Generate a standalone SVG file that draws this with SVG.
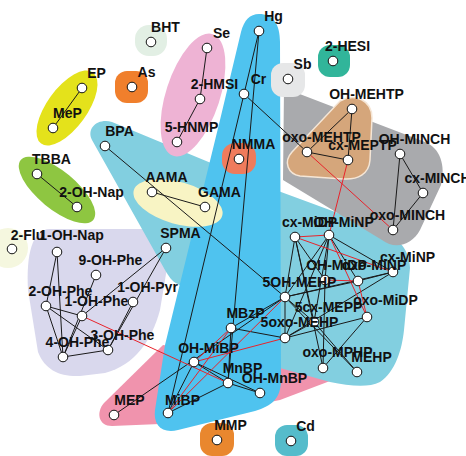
<svg xmlns="http://www.w3.org/2000/svg" width="466" height="456" viewBox="0 0 466 456">
<style>
.hull{stroke:none}
.e line{stroke:#1a1a1a;stroke-width:1}
.e line.r{stroke:#e8232b}
.n circle{fill:#fff;stroke:#111;stroke-width:1}
.n text{font-family:"Liberation Sans",Arial,sans-serif;font-weight:bold;font-size:14px;text-anchor:middle;fill:#111}
</style>
<rect width="466" height="456" fill="#fff"/>

<!-- cluster hulls -->
<g id="hulls">
  <path class="hull" fill="#d9d8ed" d="M50,229 L150,229 C160,230 166,245 168,262 L160,310 C152,340 135,365 105,373 L80,376 C60,377 45,370 38,352 L28,290 C26,255 32,229 50,229 Z"/>
  <circle class="hull" fill="#f5f7df" cx="8" cy="248" r="20"/>
  <path class="hull" fill="#f093ad" d="M163,345 L104,403 C96,412 98,426 112,426 L160,424 L280,400 L330,381 L282,362 Z"/>
  <path class="hull" fill="#82cfe0" d="M92,140 C86,128 98,118 112,122 L281,192 L376,227 C395,235 410,248 410,268 L404,330 C402,350 395,372 380,382 C368,388 350,386 330,382 L280,368 L200,300 L178,284 C172,282 168,275 165,270 Z"/>
  <path class="hull" fill="#4fc3ef" stroke="#fff" stroke-width="1" d="M259,14 C273,14 280,24 280,42 L281,380 C281,398 272,406 255,411 L178,430 C162,434 153,425 155,410 L165,345 L220,120 L241,32 C244,20 250,14 259,14 Z"/>
  <path class="hull" fill="#a9aaad" d="M284,88 L425,142 C440,148 446,165 441,185 L420,230 C412,245 395,250 382,240 L283,180 Z"/>
  <path fill="#d5a67b" stroke="#f5e6d6" stroke-width="1.5" d="M340,101 C355,93 372,100 372,118 L370,160 C369,174 358,180 343,179 L300,176 C288,174 283,162 292,152 Z"/>
  <ellipse class="hull" fill="#eeb3d4" cx="193" cy="95" rx="27" ry="64" transform="rotate(18 193 95)"/>
  <ellipse class="hull" fill="#e4e21b" cx="67" cy="108" rx="20" ry="44" transform="rotate(36 67 108)"/>
  <ellipse class="hull" fill="#8ec641" cx="57" cy="190" rx="47" ry="19" transform="rotate(39.5 57 190)"/>
  <ellipse class="hull" fill="#f8f4c4" cx="178" cy="203" rx="46" ry="21" transform="rotate(16 178 203)"/>
  <rect class="hull" fill="#e2efe4" x="135" y="25" width="32" height="31" rx="14"/>
  <rect class="hull" fill="#f07f2c" x="115" y="71" width="33" height="32" rx="12"/>
  <rect class="hull" fill="#e6e7e8" x="271" y="63" width="34" height="34" rx="12"/>
  <rect class="hull" fill="#31b59a" x="318" y="45" width="32" height="32" rx="12"/>
  <rect class="hull" fill="#ef7b5c" x="222" y="143" width="34" height="31" rx="13"/>
  <rect class="hull" fill="#e9872e" x="200" y="423" width="34" height="33" rx="12"/>
  <rect class="hull" fill="#55bccb" x="275" y="425" width="33" height="31" rx="12"/>
</g>

<!-- connectors -->
<g id="edges" class="e">
  <line x1="82" y1="88" x2="53" y2="128"/>
  <line x1="207" y1="48" x2="200" y2="99"/>
  <line x1="200" y1="99" x2="177" y2="142"/>
  <line x1="37" y1="174" x2="77" y2="207"/>
  <line x1="152" y1="192" x2="205" y2="207"/>
  <line x1="105" y1="146" x2="285" y2="297"/>
  <line x1="259" y1="31" x2="244" y2="94"/>
  <line x1="259" y1="31" x2="228" y2="383"/>
  <line x1="244" y1="94" x2="168" y2="413"/>
  <line x1="244" y1="94" x2="307" y2="152"/>
  <line x1="352" y1="109" x2="307" y2="152"/>
  <line x1="352" y1="109" x2="348" y2="160"/>
  <line x1="307" y1="152" x2="348" y2="160"/>
  <line x1="400" y1="154" x2="423" y2="193"/>
  <line x1="423" y1="193" x2="393" y2="230"/>
  <line x1="400" y1="154" x2="393" y2="230"/>
  <line x1="166" y1="248" x2="82" y2="316"/>
  <line x1="166" y1="248" x2="108" y2="350"/>
  <line x1="133" y1="302" x2="108" y2="350"/>
  <line x1="96" y1="275" x2="63" y2="357"/>
  <line x1="57" y1="252" x2="46" y2="306"/>
  <line x1="57" y1="252" x2="63" y2="357"/>
  <line x1="46" y1="306" x2="82" y2="316"/>
  <line x1="46" y1="306" x2="63" y2="357"/>
  <line x1="46" y1="306" x2="108" y2="350"/>
  <line x1="82" y1="316" x2="63" y2="357"/>
  <line x1="63" y1="357" x2="108" y2="350"/>
  <line x1="114" y1="415" x2="285" y2="297"/>
  <line x1="168" y1="413" x2="194" y2="362"/>
  <line x1="168" y1="413" x2="228" y2="383"/>
  <line x1="194" y1="362" x2="228" y2="383"/>
  <line x1="194" y1="362" x2="260" y2="393"/>
  <line x1="228" y1="383" x2="260" y2="393"/>
  <line x1="231" y1="328" x2="228" y2="383"/>
  <line x1="231" y1="328" x2="285" y2="338"/>
  <line x1="231" y1="328" x2="285" y2="297"/>
  <line x1="295" y1="237" x2="285" y2="297"/>
  <line x1="295" y1="237" x2="325" y2="280"/>
  <line x1="295" y1="237" x2="314" y2="322"/>
  <line x1="295" y1="237" x2="323" y2="368"/>
  <line x1="329" y1="235" x2="285" y2="297"/>
  <line x1="329" y1="235" x2="325" y2="280"/>
  <line x1="329" y1="235" x2="314" y2="322"/>
  <line x1="329" y1="235" x2="393" y2="272"/>
  <line x1="329" y1="235" x2="285" y2="338"/>
  <line x1="329" y1="235" x2="358" y2="281"/>
  <line x1="393" y1="272" x2="358" y2="281"/>
  <line x1="393" y1="272" x2="285" y2="297"/>
  <line x1="393" y1="272" x2="285" y2="338"/>
  <line x1="358" y1="281" x2="285" y2="297"/>
  <line x1="285" y1="297" x2="285" y2="338"/>
  <line x1="285" y1="297" x2="314" y2="322"/>
  <line x1="285" y1="297" x2="357" y2="372"/>
  <line x1="285" y1="338" x2="314" y2="322"/>
  <line x1="285" y1="338" x2="367" y2="317"/>
  <line x1="323" y1="368" x2="367" y2="317"/>
  <line x1="323" y1="368" x2="325" y2="280"/>
  <line x1="357" y1="372" x2="314" y2="322"/>
  <line class="r" x1="295" y1="237" x2="329" y2="235"/>
  <line class="r" x1="295" y1="237" x2="393" y2="272"/>
  <line class="r" x1="329" y1="235" x2="367" y2="317"/>
  <line class="r" x1="325" y1="280" x2="358" y2="281"/>
  <line class="r" x1="358" y1="281" x2="367" y2="317"/>
  <line class="r" x1="348" y1="160" x2="329" y2="235"/>
  <line class="r" x1="307" y1="152" x2="393" y2="230"/>
  <line class="r" x1="82" y1="316" x2="228" y2="383"/>
  <line class="r" x1="168" y1="413" x2="231" y2="328"/>
  <line class="r" x1="194" y1="362" x2="231" y2="328"/>
  <line class="r" x1="168" y1="413" x2="285" y2="297"/>
  <line class="r" x1="194" y1="362" x2="285" y2="338"/>
</g>

<!-- nodes -->
<g id="n-BHT" class="n"><circle cx="151" cy="42" r="4.8"/><text x="165.5" y="32">BHT</text></g>
<g id="n-Se" class="n"><circle cx="207" cy="48" r="4.8"/><text x="221.5" y="38">Se</text></g>
<g id="n-2-HMSI" class="n"><circle cx="200" cy="99" r="4.8"/><text x="214.5" y="89">2-HMSI</text></g>
<g id="n-5-HNMP" class="n"><circle cx="177" cy="142" r="4.8"/><text x="191.5" y="132">5-HNMP</text></g>
<g id="n-EP" class="n"><circle cx="82" cy="88" r="4.8"/><text x="96.5" y="78">EP</text></g>
<g id="n-MeP" class="n"><circle cx="53" cy="128" r="4.8"/><text x="67.5" y="118">MeP</text></g>
<g id="n-As" class="n"><circle cx="132" cy="87" r="4.8"/><text x="146.5" y="77">As</text></g>
<g id="n-BPA" class="n"><circle cx="105" cy="146" r="4.8"/><text x="119.5" y="136">BPA</text></g>
<g id="n-Hg" class="n"><circle cx="259" cy="31" r="4.8"/><text x="273.5" y="21">Hg</text></g>
<g id="n-Cr" class="n"><circle cx="244" cy="94" r="4.8"/><text x="258.5" y="84">Cr</text></g>
<g id="n-Sb" class="n"><circle cx="288" cy="79" r="4.8"/><text x="302.5" y="69">Sb</text></g>
<g id="n-2-HESI" class="n"><circle cx="333" cy="61" r="4.8"/><text x="347.5" y="51">2-HESI</text></g>
<g id="n-OH-MEHTP" class="n"><circle cx="352" cy="109" r="4.8"/><text x="366.5" y="99">OH-MEHTP</text></g>
<g id="n-oxo-MEHTP" class="n"><circle cx="307" cy="152" r="4.8"/><text x="321.5" y="142">oxo-MEHTP</text></g>
<g id="n-cx-MEPTP" class="n"><circle cx="348" cy="160" r="4.8"/><text x="362.5" y="150">cx-MEPTP</text></g>
<g id="n-OH-MINCH" class="n"><circle cx="400" cy="154" r="4.8"/><text x="414.5" y="144">OH-MINCH</text></g>
<g id="n-cx-MINCH" class="n"><circle cx="423" cy="193" r="4.8"/><text x="437.5" y="183">cx-MINCH</text></g>
<g id="n-oxo-MINCH" class="n"><circle cx="393" cy="230" r="4.8"/><text x="407.5" y="220">oxo-MINCH</text></g>
<g id="n-NMMA" class="n"><circle cx="239" cy="159" r="4.8"/><text x="253.5" y="149">NMMA</text></g>
<g id="n-GAMA" class="n"><circle cx="205" cy="207" r="4.8"/><text x="219.5" y="197">GAMA</text></g>
<g id="n-AAMA" class="n"><circle cx="152" cy="192" r="4.8"/><text x="166.5" y="182">AAMA</text></g>
<g id="n-TBBA" class="n"><circle cx="37" cy="174" r="4.8"/><text x="51.5" y="164">TBBA</text></g>
<g id="n-2-OH-Nap" class="n"><circle cx="77" cy="207" r="4.8"/><text x="91.5" y="197">2-OH-Nap</text></g>
<g id="n-SPMA" class="n"><circle cx="166" cy="248" r="4.8"/><text x="180.5" y="238">SPMA</text></g>
<g id="n-2-Flu" class="n"><circle cx="12" cy="249" r="4.8"/><text x="27.5" y="240">2-Flu</text></g>
<g id="n-1-OH-Nap" class="n"><circle cx="57" cy="252" r="4.8"/><text x="71.5" y="240">1-OH-Nap</text></g>
<g id="n-9-OH-Phe" class="n"><circle cx="96" cy="275" r="4.8"/><text x="110.5" y="265">9-OH-Phe</text></g>
<g id="n-2-OH-Phe" class="n"><circle cx="46" cy="306" r="4.8"/><text x="60.5" y="296">2-OH-Phe</text></g>
<g id="n-1-OH-Pyr" class="n"><circle cx="133" cy="302" r="4.8"/><text x="147.5" y="292">1-OH-Pyr</text></g>
<g id="n-1-OH-Phe" class="n"><circle cx="82" cy="316" r="4.8"/><text x="96.5" y="306">1-OH-Phe</text></g>
<g id="n-3-OH-Phe" class="n"><circle cx="108" cy="350" r="4.8"/><text x="122.5" y="340">3-OH-Phe</text></g>
<g id="n-4-OH-Phe" class="n"><circle cx="63" cy="357" r="4.8"/><text x="77.5" y="347">4-OH-Phe</text></g>
<g id="n-MEP" class="n"><circle cx="114" cy="415" r="4.8"/><text x="129.5" y="405">MEP</text></g>
<g id="n-MiBP" class="n"><circle cx="168" cy="413" r="4.8"/><text x="182.5" y="405">MiBP</text></g>
<g id="n-OH-MiBP" class="n"><circle cx="194" cy="362" r="4.8"/><text x="208.5" y="353">OH-MiBP</text></g>
<g id="n-MnBP" class="n"><circle cx="228" cy="383" r="4.8"/><text x="242.5" y="373">MnBP</text></g>
<g id="n-OH-MnBP" class="n"><circle cx="260" cy="393" r="4.8"/><text x="274.5" y="383">OH-MnBP</text></g>
<g id="n-MBzP" class="n"><circle cx="231" cy="328" r="4.8"/><text x="245.5" y="318">MBzP</text></g>
<g id="n-cx-MiDP" class="n"><circle cx="295" cy="237" r="4.8"/><text x="309.5" y="227">cx-MiDP</text></g>
<g id="n-OH-MiNP" class="n"><circle cx="329" cy="235" r="4.8"/><text x="343.5" y="227">OH-MiNP</text></g>
<g id="n-cx-MiNP" class="n"><circle cx="393" cy="272" r="4.8"/><text x="407.5" y="262">cx-MiNP</text></g>
<g id="n-OH-MiDP" class="n"><circle cx="325" cy="280" r="4.8"/><text x="336.5" y="270">OH-MiDP</text></g>
<g id="n-oxo-MiNP" class="n"><circle cx="358" cy="281" r="4.8"/><text x="374" y="270">oxo-MiNP</text></g>
<g id="n-5OH-MEHP" class="n"><circle cx="285" cy="297" r="4.8"/><text x="299.5" y="287">5OH-MEHP</text></g>
<g id="n-5cx-MEPP" class="n"><circle cx="314" cy="322" r="4.8"/><text x="328.5" y="312">5cx-MEPP</text></g>
<g id="n-oxo-MiDP" class="n"><circle cx="367" cy="317" r="4.8"/><text x="385.5" y="305">oxo-MiDP</text></g>
<g id="n-5oxo-MEHP" class="n"><circle cx="285" cy="338" r="4.8"/><text x="299.5" y="327">5oxo-MEHP</text></g>
<g id="n-oxo-MPHP" class="n"><circle cx="323" cy="368" r="4.8"/><text x="337.5" y="357">oxo-MPHP</text></g>
<g id="n-MEHP" class="n"><circle cx="357" cy="372" r="4.8"/><text x="371.5" y="362">MEHP</text></g>
<g id="n-MMP" class="n"><circle cx="217" cy="440" r="4.8"/><text x="230.5" y="430">MMP</text></g>
<g id="n-Cd" class="n"><circle cx="291" cy="441" r="4.8"/><text x="305.5" y="431">Cd</text></g>
</svg>
